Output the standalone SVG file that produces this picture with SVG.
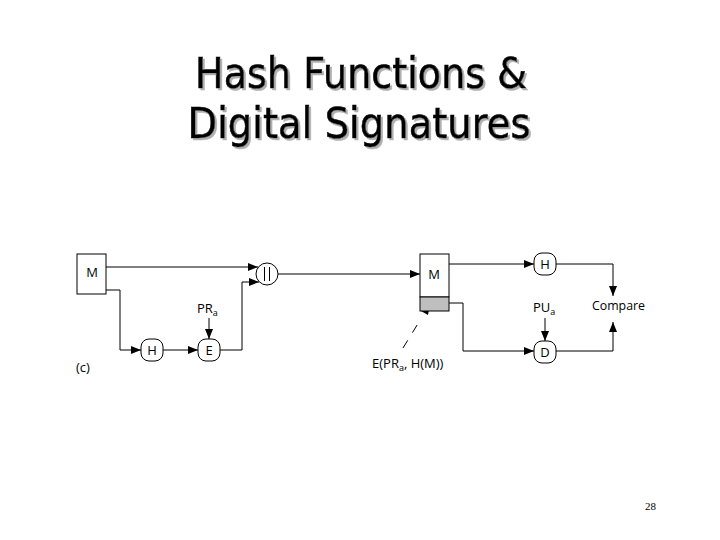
<svg xmlns="http://www.w3.org/2000/svg" width="720" height="540" viewBox="0 0 720 540">
<defs>
<marker id="ah" viewBox="0 0 10 8" refX="10" refY="4" markerWidth="10" markerHeight="8" markerUnits="userSpaceOnUse" orient="auto">
<path d="M0,0 L10,4 L0,8 Z" fill="#000"/>
</marker>
<filter id="shadow" x="-5%" y="-20%" width="110%" height="140%">
<feOffset in="SourceAlpha" dx="2" dy="2" result="o"/>
<feFlood flood-color="#b0b0b0"/>
<feComposite in2="o" operator="in" result="s"/>
<feMerge><feMergeNode in="s"/><feMergeNode in="SourceGraphic"/></feMerge>
</filter>
<style>
.t{font-family:"DejaVu Sans",sans-serif;font-size:42px;fill:#000;stroke:#000;stroke-width:0.6;}
.lb{font-family:"Open Sans","Noto Sans",sans-serif;font-size:13px;fill:#000;}
.c{stroke:#000;stroke-width:1;fill:none;marker-end:url(#ah);}
.n{fill:#fff;stroke:#000;stroke-width:1;}
</style>
</defs>
<rect width="720" height="540" fill="#fff"/>
<g id="title" filter="url(#shadow)">
<text class="t" x="361" y="88" text-anchor="middle" textLength="332" lengthAdjust="spacingAndGlyphs">Hash Functions &amp;</text>
<text class="t" x="359" y="138" text-anchor="middle" textLength="343" lengthAdjust="spacingAndGlyphs">Digital Signatures</text>
</g>
<g id="connectors">
<polyline class="c" points="106,267 258,267"/>
<polyline class="c" points="106,290 120,290 120,350 141,350"/>
<polyline class="c" points="163,350 198,350"/>
<polyline class="c" points="209,318 209,339"/>
<polyline class="c" points="220,350 242,350 242,282 259,282"/>
<polyline class="c" points="278,274 420,274"/>
<polyline class="c" points="449,264 534,264"/>
<polyline class="c" points="556,264 613,264 613,296"/>
<polyline class="c" points="449,303 463,303 463,351 534,351"/>
<polyline class="c" points="545,318 545,341"/>
<polyline class="c" points="556,351 613,351 613,322"/>
<line x1="403" y1="348" x2="419" y2="322" stroke="#000" stroke-width="1" stroke-dasharray="9,9"/>
<polygon points="421,311 430,305 428,315" fill="#000"/>
</g>
<g id="node-M1">
<rect class="n" x="77" y="254" width="29" height="40"/>
<text class="lb" x="92" y="277" text-anchor="middle">M</text>
</g>
<g id="node-H1">
<rect class="n" x="141" y="339" width="22" height="22" rx="8"/>
<text class="lb" x="152" y="355" text-anchor="middle">H</text>
</g>
<g id="node-E">
<rect class="n" x="198" y="339" width="22" height="22" rx="8"/>
<text class="lb" x="209" y="355" text-anchor="middle">E</text>
</g>
<g id="node-PRa">
<text class="lb" x="197" y="313">PR<tspan font-size="9" dy="3">a</tspan></text>
</g>
<g id="node-concat">
<circle class="n" cx="267" cy="274" r="11"/>
<line x1="264.5" y1="267" x2="264.5" y2="281" stroke="#000" stroke-width="1"/>
<line x1="269.5" y1="267" x2="269.5" y2="281" stroke="#000" stroke-width="1"/>
</g>
<g id="node-M2">
<rect class="n" x="420" y="254" width="29" height="43"/>
<rect x="420" y="297" width="29" height="14" fill="#bfbfbf" stroke="#000" stroke-width="1"/>
<text class="lb" x="434" y="279" text-anchor="middle">M</text>
</g>
<g id="node-sig">
<text class="lb" x="372" y="368">E(PR<tspan font-size="9" dy="3">a</tspan><tspan dy="-3">, H(M))</tspan></text>
</g>
<g id="node-H2">
<rect class="n" x="534" y="253" width="22" height="22" rx="8"/>
<text class="lb" x="545" y="269" text-anchor="middle">H</text>
</g>
<g id="node-D">
<rect class="n" x="534" y="341" width="22" height="22" rx="8"/>
<text class="lb" x="545" y="357" text-anchor="middle">D</text>
</g>
<g id="node-PUa">
<text class="lb" x="533" y="312">PU<tspan font-size="9" dy="3">a</tspan></text>
</g>
<g id="node-compare">
<text class="lb" x="592" y="310" textLength="53" lengthAdjust="spacingAndGlyphs">Compare</text>
</g>
<text class="lb" x="76" y="372">(c)</text>
<text x="645" y="510" font-family="Liberation Serif,serif" font-size="11" fill="#000">28</text>
</svg>
